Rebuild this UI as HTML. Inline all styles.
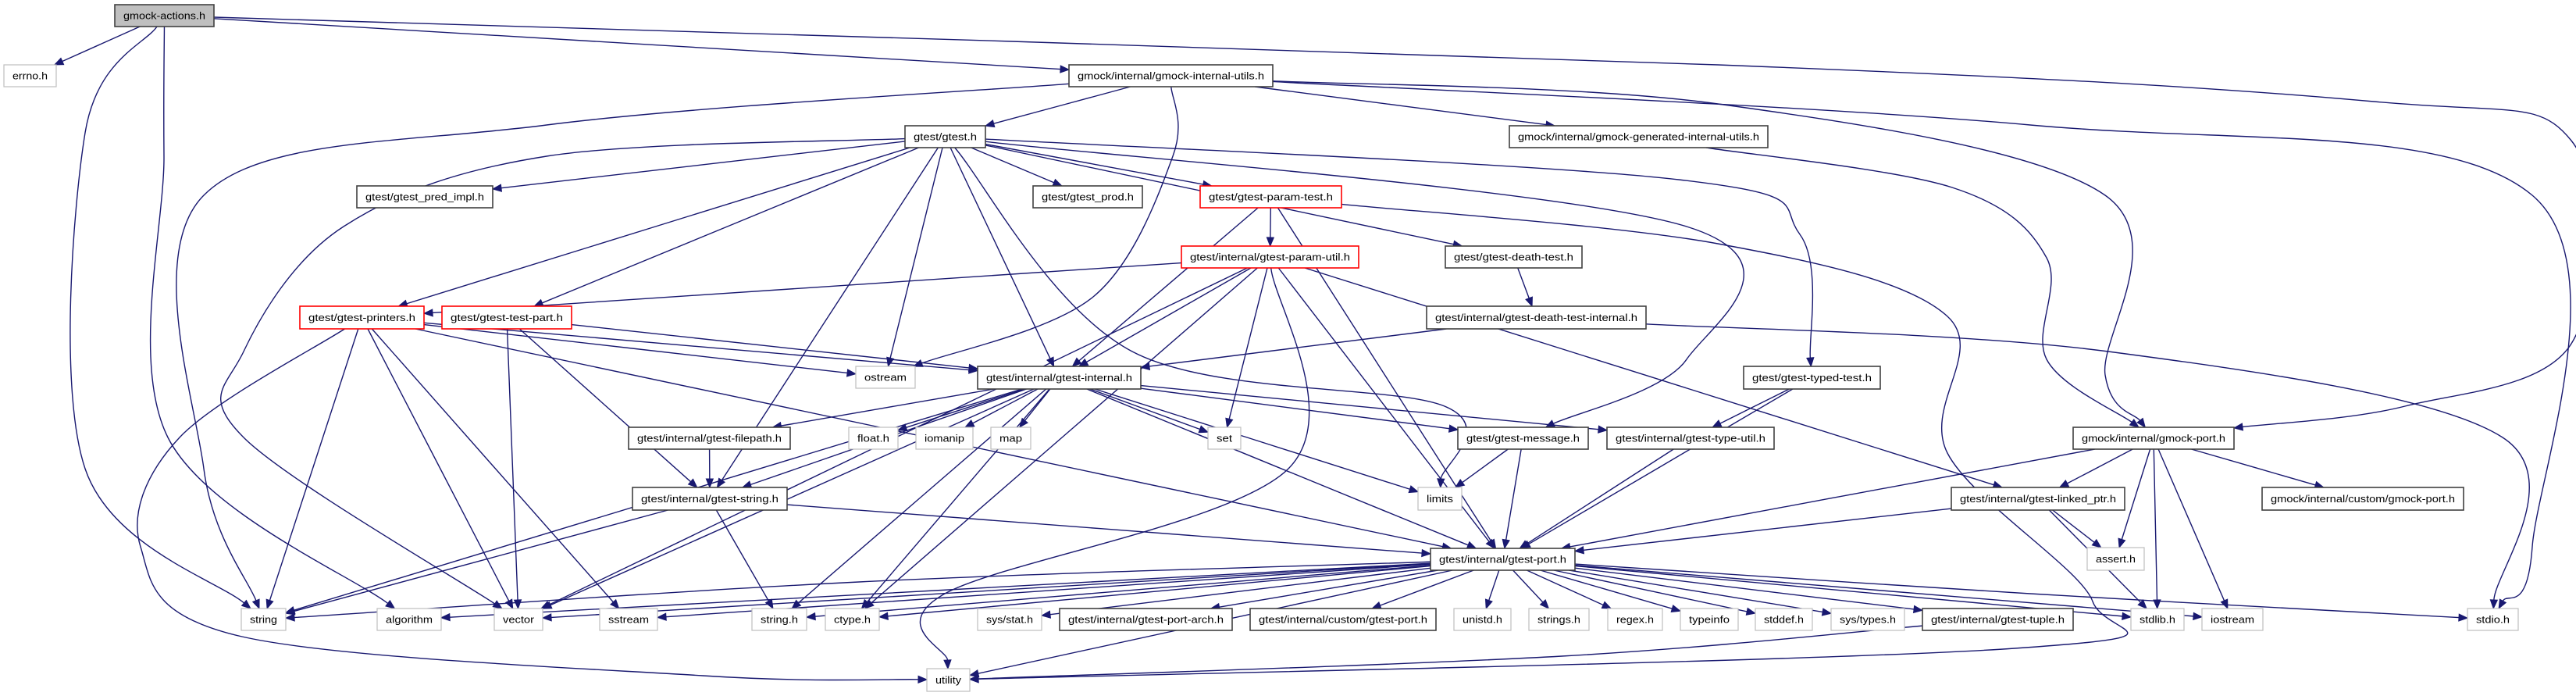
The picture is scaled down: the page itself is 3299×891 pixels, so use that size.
<!DOCTYPE html>
<html><head><meta charset="utf-8"><style>
html,body{margin:0;padding:0;background:#fff;}
svg{display:block;}
text{font-family:"Liberation Sans",sans-serif;font-size:13px;fill:#000;}
</style></head>
<body>
<svg id="g" width="3299" height="891" viewBox="0 0 3299 891" xmlns="http://www.w3.org/2000/svg">
<g id="edges"></g><g id="nodes"></g>
</svg>
<script>
const nodeIds=["A","errno","giu","gtest","ggiu","pred","prod","ptest","putil","dtest","printers","tpart","dti","ostream","internal","typed","filepath","float","iomanip","map","set","message","typeutil","gmockport","gstring","limits","linked","cgmock","port","assert","string","algorithm","vector","sstream","stringh","ctype","sysstat","portarch","cport","unistd","strings","regex","typeinfo","stddef","systypes","tuple","stdlib","iostream","stdio","utility"];
const nodeLabels=["gmock-actions.h","errno.h","gmock/internal/gmock-internal-utils.h","gtest/gtest.h","gmock/internal/gmock-generated-internal-utils.h","gtest/gtest_pred_impl.h","gtest/gtest_prod.h","gtest/gtest-param-test.h","gtest/internal/gtest-param-util.h","gtest/gtest-death-test.h","gtest/gtest-printers.h","gtest/gtest-test-part.h","gtest/internal/gtest-death-test-internal.h","ostream","gtest/internal/gtest-internal.h","gtest/gtest-typed-test.h","gtest/internal/gtest-filepath.h","float.h","iomanip","map","set","gtest/gtest-message.h","gtest/internal/gtest-type-util.h","gmock/internal/gmock-port.h","gtest/internal/gtest-string.h","limits","gtest/internal/gtest-linked_ptr.h","gmock/internal/custom/gmock-port.h","gtest/internal/gtest-port.h","assert.h","string","algorithm","vector","sstream","string.h","ctype.h","sys/stat.h","gtest/internal/gtest-port-arch.h","gtest/internal/custom/gtest-port.h","unistd.h","strings.h","regex.h","typeinfo","stddef.h","sys/types.h","gtest/internal/gtest-tuple.h","stdlib.h","iostream","stdio.h","utility"];
const nodeKinds=["root","sys","doc","doc","doc","doc","doc","red","red","doc","red","red","doc","sys","doc","doc","doc","sys","sys","sys","sys","doc","doc","doc","doc","sys","doc","doc","doc","sys","sys","sys","sys","sys","sys","sys","sys","doc","doc","sys","sys","sys","sys","sys","sys","doc","sys","sys","sys","sys"];
const B={A:[147,274,6,34],errno:[5,72,83,111],giu:[1369,1630,83,111],gtest:[1159,1262,161,189],ggiu:[1933,2264,161,189],pred:[457,631,238,266],prod:[1323,1463,238,266],ptest:[1537,1718,238,266],putil:[1513,1740,315,343],dtest:[1851,2026,315,343],printers:[384,543,392,421],tpart:[566,732,392,421],dti:[1827,2108,392,421],ostream:[1096,1172,469,497],internal:[1252,1461,469,498],typed:[2233,2408,469,498],filepath:[805,1012,547,575],float:[1087,1150,547,575],iomanip:[1173,1246,547,575],map:[1269,1320,547,575],set:[1547,1589,547,575],message:[1867,2034,547,575],typeutil:[2058,2272,547,575],gmockport:[2655,2861,547,575],gstring:[810,1008,624,653],limits:[1816,1872,624,653],linked:[2499,2721,624,653],cgmock:[2897,3155,624,653],port:[1832,2017,702,730],assert:[2673,2746,701,730],string:[309,366,779,807],algorithm:[483,565,779,807],vector:[633,695,779,807],sstream:[768,842,779,807],stringh:[963,1033,779,807],ctype:[1057,1126,779,807],sysstat:[1252,1334,779,807],portarch:[1357,1578,779,807],cport:[1601,1839,779,807],unistd:[1862,1935,779,807],strings:[1958,2035,779,807],regex:[2059,2129,779,807],typeinfo:[2152,2226,779,807],stddef:[2248,2321,779,807],systypes:[2345,2439,779,807],tuple:[2462,2655,779,807],stdlib:[2729,2797,779,807],iostream:[2820,2898,779,807],stdio:[3160,3225,779,807],utility:[1187,1242,856,885]};
const edgeFrom=["A","A","A","A","A","giu","giu","giu","giu","giu","giu","ggiu","gtest","gtest","gtest","gtest","gtest","gtest","gtest","gtest","gtest","gtest","gtest","gtest","gtest","ptest","ptest","ptest","ptest","putil","putil","putil","putil","putil","putil","putil","putil","dtest","dti","dti","printers","printers","printers","printers","printers","printers","printers","tpart","tpart","tpart","internal","internal","internal","internal","internal","internal","internal","internal","internal","internal","internal","internal","internal","internal","typed","typed","filepath","gstring","gstring","gstring","message","message","typeutil","gmockport","gmockport","gmockport","gmockport","gmockport","gmockport","linked","linked","linked","port","port","port","port","port","port","port","port","port","port","port","port","port","port","port","port","port","port","port","port","tuple"];
const edgeTo=["errno","string","algorithm","giu","gmockport","gtest","ggiu","gmockport","ostream","string","stdio","gmockport","pred","prod","ptest","printers","tpart","internal","ostream","limits","dtest","message","typed","gstring","vector","putil","internal","port","utility","printers","internal","linked","ctype","set","vector","utility","port","dti","internal","stdio","ostream","sstream","string","vector","utility","internal","port","internal","gstring","vector","float","iomanip","map","set","limits","message","typeutil","filepath","gstring","port","string","vector","ctype","stringh","typeutil","port","gstring","string","stringh","port","limits","port","port","port","linked","cgmock","assert","stdlib","iostream","port","assert","stdlib","string","algorithm","vector","sstream","stringh","ctype","sysstat","portarch","cport","unistd","strings","regex","typeinfo","stddef","systypes","tuple","stdlib","iostream","stdio","utility","utility"];
const WP={"A>string":[[109,170],[109,600]],"A>algorithm":[[210,200],[215,560]],"A>gmockport":[[2200,83],[3040,130],[3293,180],[3293,440],[3080,520]],"giu>string":[[700,160],[261,250],[261,600]],"giu>stdio":[[2600,160],[3243,250],[3243,700]],"giu>gmockport":[[2200,133],[2696,250],[2696,480]],"ggiu>gmockport":[[2500,240],[2621,330],[2621,460]],"giu>ostream":[[1502,200],[1400,380]],"ptest>utility":[[2200,312],[2494,405],[2494,580],[2680,770],[2580,830]],"dti>stdio":[[2700,450],[3205,560]],"gtest>vector":[[700,200],[440,290],[312,450],[312,560]],"gtest>typed":[[2150,230],[2305,300]],"gtest>message":[[2160,290],[2160,460]],"gtest>limits":[[1450,450],[1850,520]],"printers>utility":[[230,560],[180,700],[310,815],[900,865]],"putil>utility":[[1650,600],[1210,760]],"port>stdio":[[2600,760]],"port>string":[[1100,745]],"tuple>utility":[[2000,840]]};
function clip(b,px,py){const cx=(b[0]+b[1])/2,cy=(b[2]+b[3])/2,hw=(b[1]-b[0])/2,hh=(b[3]-b[2])/2;let dx=px-cx,dy=py-cy;if(dx===0&&dy===0)return[cx,cy];const s=Math.min(dx?hw/Math.abs(dx):1e9,dy?hh/Math.abs(dy):1e9);return[cx+dx*s,cy+dy*s];}
const E=document.getElementById('edges'),N=document.getElementById('nodes'),NS="http://www.w3.org/2000/svg";
for(let i=0;i<edgeFrom.length;i++){
 const s=B[edgeFrom[i]],t=B[edgeTo[i]];const w=WP[edgeFrom[i]+">"+edgeTo[i]]||[];
 const tc=[(t[0]+t[1])/2,(t[2]+t[3])/2],sc=[(s[0]+s[1])/2,(s[2]+s[3])/2];
 const first=w.length?w[0]:tc,last=w.length?w[w.length-1]:sc;
 const p0=clip(s,first[0],first[1]),p1=clip(t,last[0],last[1]);
 const pts=[p0,...w,p1];
 const pv=pts[pts.length-2];let ax=p1[0]-pv[0],ay=p1[1]-pv[1];const L=Math.hypot(ax,ay)||1;ax/=L;ay/=L;
 const bx=p1[0]-ax*11,by=p1[1]-ay*11;pts[pts.length-1]=[bx,by];
 let d="M"+pts[0][0]+","+pts[0][1];
 for(let k=0;k<pts.length-1;k++){const a=pts[Math.max(k-1,0)],b=pts[k],c=pts[k+1],e=pts[Math.min(k+2,pts.length-1)];
  d+=" C"+(b[0]+(c[0]-a[0])/6)+","+(b[1]+(c[1]-a[1])/6)+" "+(c[0]-(e[0]-b[0])/6)+","+(c[1]-(e[1]-b[1])/6)+" "+c[0]+","+c[1];}
 const p=document.createElementNS(NS,"path");p.setAttribute("d",d);p.setAttribute("fill","none");p.setAttribute("stroke","#191970");p.setAttribute("stroke-width","1.4");
 
 
 E.appendChild(p);
 const h=document.createElementNS(NS,"polygon");
 h.setAttribute("points",p1[0]+","+p1[1]+" "+(bx-ay*4.5)+","+(by+ax*4.5)+" "+(bx+ay*4.5)+","+(by-ax*4.5));
 h.setAttribute("fill","#191970");h.setAttribute("stroke","#191970");
 
 
 E.appendChild(h);
}
for(let i=0;i<nodeIds.length;i++){
 const b=B[nodeIds[i]],k=nodeKinds[i];
 const g=document.createElementNS(NS,"g");
 
 
 const r=document.createElementNS(NS,"rect");
 r.setAttribute("x",b[0]);r.setAttribute("y",b[2]);r.setAttribute("width",b[1]-b[0]);r.setAttribute("height",b[3]-b[2]);
 r.setAttribute("fill",k==="root"?"#bfbfbf":"#ffffff");
 r.setAttribute("stroke",k==="red"?"#ff0000":k==="sys"?"#bfbfbf":"#404040");
 r.setAttribute("stroke-width",k==="sys"?"1.2":"1.6");
 g.appendChild(r);
 const t=document.createElementNS(NS,"text");
 t.setAttribute("x",(b[0]+b[1])/2);t.setAttribute("y",(b[2]+b[3])/2+4.5);t.setAttribute("text-anchor","middle");
 t.setAttribute("textLength",Math.max(b[1]-b[0]-22,10));t.setAttribute("lengthAdjust","spacingAndGlyphs");
 t.textContent=nodeLabels[i];
 g.appendChild(t);N.appendChild(g);
}
</script>
</body></html>
